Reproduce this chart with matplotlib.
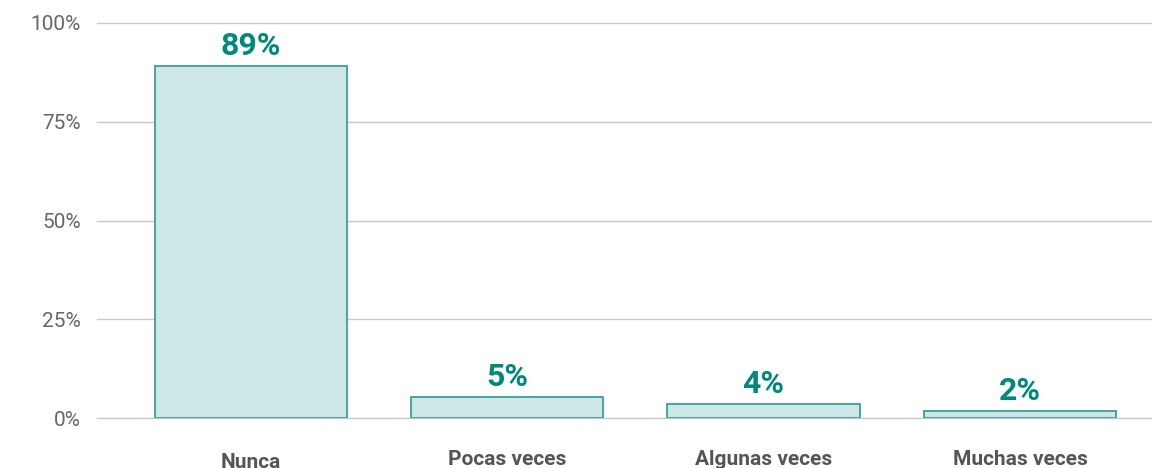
import matplotlib
matplotlib.use("Agg")
import matplotlib.pyplot as plt
import matplotlib.transforms as mtransforms
from matplotlib.ticker import FuncFormatter

categories = ["Nunca", "Pocas veces", "Algunas veces", "Muchas veces"]
values = [89.2, 5.4, 3.6, 1.8]
value_labels = ["89%", "5%", "4%", "2%"]
yticks = [0, 25, 50, 75, 100]

plt.rcParams['font.family'] = ['Roboto', 'DejaVu Sans']

fig = plt.figure(figsize=(11.52, 4.68), dpi=100)
ax = fig.add_axes([97/1152, 50/468, 1 - 97/1152, 395/468])

x = list(range(len(categories)))
ax.bar(x, values, width=0.75, color="#cde6e6", edgecolor="#3a9e98", linewidth=1.3, zorder=3)

for xi, v, lab in zip(x, values, value_labels):
    ax.annotate(lab, (xi, v), xytext=(0, 7.5), textcoords="offset points",
                ha="center", va="baseline", fontsize=23, fontweight="bold", color="#00897b")

ax.set_xlim(-0.6, 3.515)
ax.set_ylim(0, 100)
ax.set_yticks(yticks)
ax.yaxis.set_major_formatter(FuncFormatter(lambda v, p: f"{int(v)}%"))
ax.grid(axis="y", color="#c8c8c8", linewidth=1, zorder=0)
for gl in ax.get_ygridlines():
    gl.set_clip_on(False)
ax.set_xticks(x)
ax.set_xticklabels(categories, fontsize=15, fontweight="bold", color="#555555")
ax.tick_params(axis="x", length=0, pad=23)
ax.tick_params(axis="y", length=0, pad=11.5, labelsize=15, labelcolor="#666666")
for s in ax.spines.values():
    s.set_visible(False)

first = ax.get_xticklabels()[0]
first.set_transform(first.get_transform() + mtransforms.ScaledTranslation(0, -3/100, fig.dpi_scale_trans))

fig.savefig("out.png", dpi=100)
